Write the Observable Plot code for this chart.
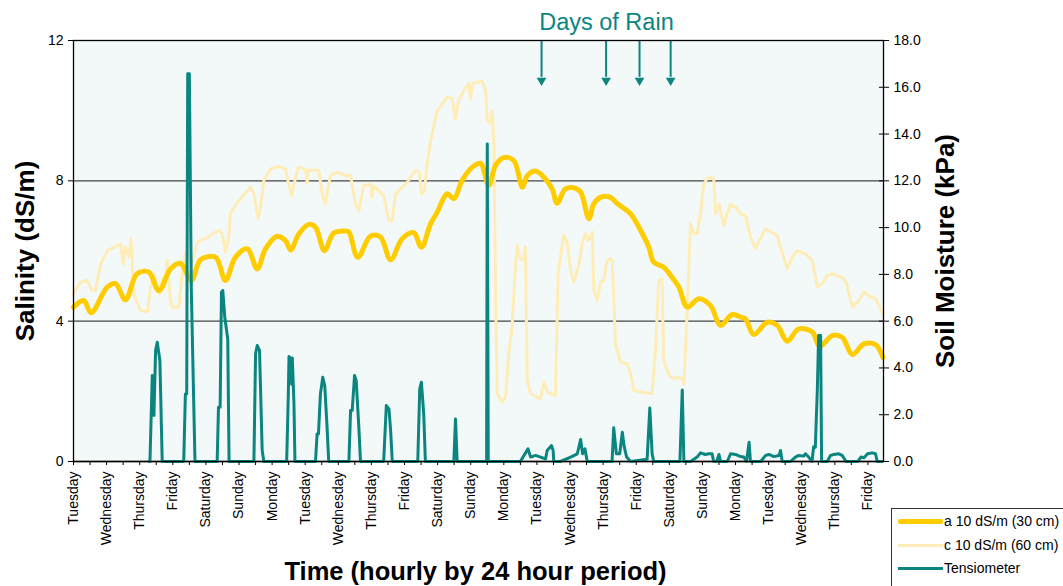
<!DOCTYPE html>
<html><head><meta charset="utf-8">
<script src="https://cdn.jsdelivr.net/npm/d3@7"></script>
<script src="https://cdn.jsdelivr.net/npm/@observablehq/plot@0.6"></script>
<style>
html,body{margin:0;padding:0;background:#fff;overflow:hidden;width:1063px;height:586px;}
#chart{position:relative;width:1063px;height:586px;font-family:"Liberation Sans",Arial,sans-serif;}
#legend{position:absolute;left:891px;top:508px;width:200px;height:90px;border:1px solid #333;background:#fff;box-sizing:border-box;}
.row{position:absolute;left:0;height:20px;font-size:14px;line-height:20px;white-space:nowrap;color:#000;}
.sw{position:absolute;left:6px;width:45px;}
.lab{position:absolute;left:52px;top:0;}
</style></head>
<body><div id="chart"></div>
<script>
// ---- data ----
const dayNames = ["Tuesday","Wednesday","Thursday","Friday","Saturday","Sunday","Monday","Tuesday","Wednesday","Thursday","Friday","Saturday","Sunday","Monday","Tuesday","Wednesday","Thursday","Friday","Saturday","Sunday","Monday","Tuesday","Wednesday","Thursday","Friday"];
const seriesNames = ["a 10 dS/m (30 cm)","c 10 dS/m (60 cm)","Tensiometer"];

// a 10 dS/m (30 cm) salinity (dS/m)
const aDays = [0.0,0.31,0.53,1.02,1.27,1.57,1.92,2.27,2.58,2.93,3.23,3.56,3.84,4.29,4.59,4.89,5.25,5.55,5.80,6.15,6.40,6.56,6.81,7.11,7.31,7.58,7.86,8.22,8.32,8.59,8.97,9.27,9.58,9.93,10.28,10.51,10.79,10.99,11.29,11.49,11.74,12.05,12.30,12.35,12.55,12.75,13.00,13.30,13.56,13.71,13.96,14.21,14.46,14.61,14.86,15.12,15.32,15.57,15.72,15.92,16.22,16.43,16.83,17.13,17.38,17.53,17.83,18.04,18.29,18.54,18.89,19.24,19.55,19.90,20.20,20.30,20.55,20.96,21.26,21.56,21.91,22.32,22.54,22.92,23.22,23.53,23.88,24.23,24.45];
const aSal = [4.40,4.59,4.24,4.97,5.07,4.61,5.35,5.40,4.87,5.49,5.65,5.16,5.75,5.82,5.16,5.82,6.06,5.49,6.06,6.42,6.30,6.03,6.49,6.76,6.68,6.01,6.51,6.57,6.54,5.82,6.42,6.40,5.75,6.35,6.52,6.11,6.78,7.11,7.63,7.49,8.01,8.39,8.50,8.44,7.87,8.44,8.66,8.58,7.82,8.15,8.28,8.10,7.77,7.36,7.77,7.80,7.68,6.92,7.35,7.53,7.53,7.35,7.06,6.59,6.11,5.68,5.54,5.30,4.97,4.40,4.64,4.45,3.88,4.19,4.10,4.07,3.62,3.97,3.88,3.43,3.78,3.69,3.28,3.59,3.54,3.05,3.35,3.33,2.97];

// c 10 dS/m (60 cm) salinity (dS/m)
const cDays = [0.0,0.21,0.41,0.56,0.66,0.82,1.02,1.42,1.50,1.57,1.67,1.74,1.82,2.02,2.23,2.33,2.43,2.53,2.60,2.68,2.75,2.83,2.93,2.98,3.18,3.28,3.38,3.44,3.74,4.14,4.39,4.49,4.59,4.69,4.74,4.99,5.35,5.45,5.58,5.65,5.75,5.95,6.20,6.40,6.50,6.59,6.71,6.79,7.01,7.06,7.11,7.41,7.51,7.61,7.76,7.97,8.22,8.37,8.52,8.62,8.77,8.97,9.02,9.07,9.37,9.53,9.63,9.73,10.08,10.33,10.45,10.51,10.60,10.66,10.79,10.99,11.29,11.44,11.54,11.64,11.79,11.94,11.99,12.05,12.30,12.35,12.45,12.50,12.60,12.65,12.70,12.75,12.80,12.95,13.05,13.15,13.25,13.33,13.40,13.50,13.60,13.65,13.71,13.81,14.01,14.11,14.21,14.31,14.56,14.64,14.71,14.81,14.91,15.02,15.12,15.27,15.37,15.47,15.56,15.67,15.72,15.82,15.92,16.02,16.12,16.22,16.27,16.32,16.37,16.53,16.73,16.83,16.93,17.13,17.48,17.58,17.68,17.78,17.83,17.98,18.09,18.24,18.39,18.44,18.54,18.64,18.74,18.84,18.94,19.04,19.14,19.24,19.34,19.40,19.50,19.65,19.75,19.85,20.00,20.15,20.30,20.45,20.60,20.69,20.91,21.26,21.36,21.56,21.71,21.86,22.11,22.32,22.47,22.62,22.77,22.92,23.22,23.34,23.53,23.73,23.88,24.08,24.23,24.45];
const cSal = [4.78,5.11,5.16,4.87,4.87,5.63,6.01,6.20,5.63,6.11,5.83,6.35,4.78,4.30,4.26,4.97,5.35,4.97,4.78,5.21,4.97,5.73,4.59,4.40,4.40,5.35,5.92,5.20,6.25,6.44,6.59,6.50,5.97,6.40,7.06,7.44,7.82,7.63,6.92,7.25,8.01,8.34,8.41,8.34,7.91,7.58,8.10,8.39,8.34,7.93,8.30,8.30,7.63,7.34,8.15,8.25,8.15,8.15,7.34,7.15,7.87,7.90,7.53,7.85,7.58,6.87,6.87,7.63,7.96,8.30,8.25,7.63,7.70,8.30,9.15,10.00,10.38,10.35,9.77,10.29,10.58,10.77,10.34,10.77,10.84,10.84,10.58,9.72,9.63,10.00,9.06,4.80,1.93,1.69,1.83,3.07,3.83,5.25,6.16,5.78,5.75,6.11,2.31,1.93,1.83,1.79,2.26,1.98,1.88,5.35,5.82,6.44,6.25,5.44,5.11,5.63,6.25,6.49,6.30,6.54,4.87,4.59,5.11,5.16,5.73,5.78,5.73,4.78,3.35,2.83,2.78,2.50,2.02,1.98,1.93,3.16,5.16,5.21,2.88,2.50,2.36,2.40,2.36,2.21,4.30,6.78,6.49,6.49,7.06,7.91,8.06,8.10,8.06,7.06,7.34,6.73,7.06,7.33,7.25,7.06,7.01,6.40,6.06,6.25,6.63,6.44,6.11,5.49,5.82,6.01,5.92,5.73,4.97,5.07,5.30,5.35,5.25,5.11,4.40,4.59,4.83,4.69,4.64,4.21];

// Tensiometer soil moisture (kPa)
const tDays = [2.28,2.31,2.38,2.43,2.48,2.53,2.61,2.68,3.33,3.38,3.42,3.45,3.50,3.56,3.67,4.34,4.38,4.43,4.47,4.51,4.57,4.66,4.70,5.45,5.50,5.55,5.62,5.70,5.75,6.44,6.49,6.51,6.56,6.59,6.61,6.66,6.69,7.31,7.36,7.40,7.46,7.53,7.59,7.66,7.71,8.32,8.37,8.42,8.49,8.54,8.62,8.67,9.37,9.45,9.53,9.58,9.63,10.40,10.46,10.51,10.58,10.63,11.49,11.54,11.59,12.48,12.50,12.53,13.50,13.73,13.81,13.96,14.11,14.26,14.31,14.44,14.49,14.51,14.71,15.02,15.22,15.32,15.38,15.45,15.52,16.27,16.32,16.40,16.50,16.58,16.63,16.71,16.83,17.33,17.41,17.48,17.53,18.32,18.39,18.44,18.64,18.84,18.94,19.09,19.19,19.29,19.34,19.43,19.50,19.55,19.75,19.85,20.00,20.15,20.25,20.33,20.41,20.45,20.76,20.91,21.01,21.16,21.31,21.36,21.41,21.66,21.81,21.91,22.06,22.11,22.21,22.31,22.36,22.41,22.47,22.51,22.57,22.60,22.77,22.87,22.97,23.12,23.22,23.34,23.69,23.79,23.88,23.99,24.13,24.23,24.28,24.43];
const tKpa = [0,0,3.68,1.97,4.75,5.10,4.32,0,0,2.89,2.89,16.58,16.58,7.30,0,0,2.32,2.32,7.24,7.31,6.17,5.24,0,0,4.60,4.96,4.75,0.47,0,0,2.89,4.49,4.40,3.30,4.42,2.47,0,0,1.18,1.18,2.89,3.60,3.25,1.47,0,0,2.18,2.18,3.68,3.46,1.47,0,0,2.39,2.25,1.33,0,0,3.11,3.39,2.04,0,0,1.82,0,0,13.58,0,0,0.54,0.19,0.26,0.19,0.11,0.47,0.68,0.47,0,0,0.19,0.33,0.94,0.33,0.54,0,0,1.44,0.33,0.33,1.25,0.68,0.19,0,0.10,2.29,0.33,0,0,3.06,0,0,0.19,0.37,0.30,0.33,0.33,0,0,0.30,0,0,0.33,0.30,0.21,0.19,0,0.82,0,0,0.26,0.30,0.21,0.26,0.47,0,0,0.19,0.26,0.23,0.33,0.19,0,0.63,0.61,3.02,5.39,5.39,0,0,0.26,0.30,0.33,0.26,0,0,0.19,0.16,0.33,0.37,0.33,0,0];

const rainDays = [14.14,16.09,17.10,18.04];
const salTicks = [0,4,8,12];
const kpaTicks = [0,2,4,6,8,10,12,14,16,18];
const gridSal = [4,8];

// ---- build ----
const C_A = "#FFCC00", C_C = "#FFEDB8", C_T = "#0B8580";
const kpaToSal = k => k * 12 / 18;
const aData = aDays.map((d,i)=>({day:d, v:aSal[i]}));
const cData = cDays.map((d,i)=>({day:d, v:cSal[i]}));
const tData = tDays.map((d,i)=>({day:d, v:kpaToSal(tKpa[i])}));
const halfTicks = d3.range(0, dayNames.length*2 - 1).map(i => i/2);
const dayIdx = dayNames.map((_,i)=>i);
const rainTitleDay = 16.1;

const chart = Plot.plot({
  width:1063, height:586,
  marginLeft:73, marginRight:180, marginTop:40, marginBottom:125,
  style:{fontFamily:'"Liberation Sans",Arial,sans-serif', fontSize:"14px", color:"#000", background:"transparent", overflow:"visible"},
  x:{domain:[0,24.47], axis:null},
  y:{domain:[0,12], axis:null},
  marks:[
    Plot.frame({fill:"#F3F9F9", stroke:null}),
    Plot.ruleY(gridSal, {stroke:"#444", strokeWidth:1.3}),
    Plot.line(cData, {x:"day", y:"v", stroke:C_C, strokeWidth:3}),
    Plot.line(aData, {x:"day", y:"v", stroke:C_A, strokeWidth:5, curve:"catmull-rom"}),
    Plot.ruleY([0], {stroke:"#000", strokeWidth:1.3}),
    Plot.line(tData, {x:"day", y:"v", stroke:C_T, strokeWidth:3}),
    Plot.ruleX(rainDays, {x:d=>d, y1:12, y2:10.95, stroke:C_T, strokeWidth:2}),
    Plot.dot(rainDays, {x:d=>d, y:10.86, symbol:"triangle", r:3.6, fill:C_T, stroke:null, rotate:180}),
    Plot.text(["Days of Rain"], {x:()=>rainTitleDay, frameAnchor:"top", lineAnchor:"middle", dy:-18, fill:C_T, fontSize:23.5}),
    Plot.axisY(salTicks, {anchor:"left", tickSize:5, tickPadding:5, fontSize:14, label:null}),
    Plot.axisY(kpaTicks.map(kpaToSal), {anchor:"right", tickSize:10, dx:-5, tickPadding:5, fontSize:14, label:null, tickFormat:d=>(d*18/12).toFixed(1)}),
    Plot.axisX(halfTicks, {anchor:"bottom", tickSize:4, tickFormat:()=>"", label:null}),
    Plot.axisX(dayIdx, {anchor:"bottom", tickSize:0, tickPadding:10, tickRotate:-90, fontSize:14, label:null, tickFormat:i=>dayNames[i]}),
    Plot.text(["Salinity (dS/m)"], {frameAnchor:"left", textAnchor:"middle", lineAnchor:"middle", dx:-48, rotate:-90, fontSize:26, fontWeight:"bold"}),
    Plot.text(["Soil Moisture (kPa)"], {frameAnchor:"right", textAnchor:"middle", lineAnchor:"middle", dx:62, rotate:-90, fontSize:26, fontWeight:"bold"}),
    Plot.text(["Time (hourly by 24 hour period)"], {frameAnchor:"bottom", lineAnchor:"middle", dx:-3, dy:110, fontSize:25.5, fontWeight:"bold"}),
    Plot.frame({stroke:"#000", strokeWidth:1.3})
  ]
});
document.getElementById("chart").appendChild(chart);

// legend
const leg = document.createElement("div");
leg.id = "legend";
const styles = [`top:2px`, `top:26px`, `top:49px`];
const swatch = [
  `top:8px;height:5px;background:${C_A};border-radius:2px;`,
  `top:9px;height:3px;background:${C_C};`,
  `top:9px;height:3px;background:${C_T};`
];
seriesNames.forEach((n,i)=>{
  const r = document.createElement("div");
  r.className = "row"; r.style.cssText = styles[i];
  r.innerHTML = `<div class="sw" style="${swatch[i]}"></div><span class="lab"></span>`;
  r.querySelector(".lab").textContent = n;
  leg.appendChild(r);
});
document.getElementById("chart").appendChild(leg);
</script>
</body></html>
